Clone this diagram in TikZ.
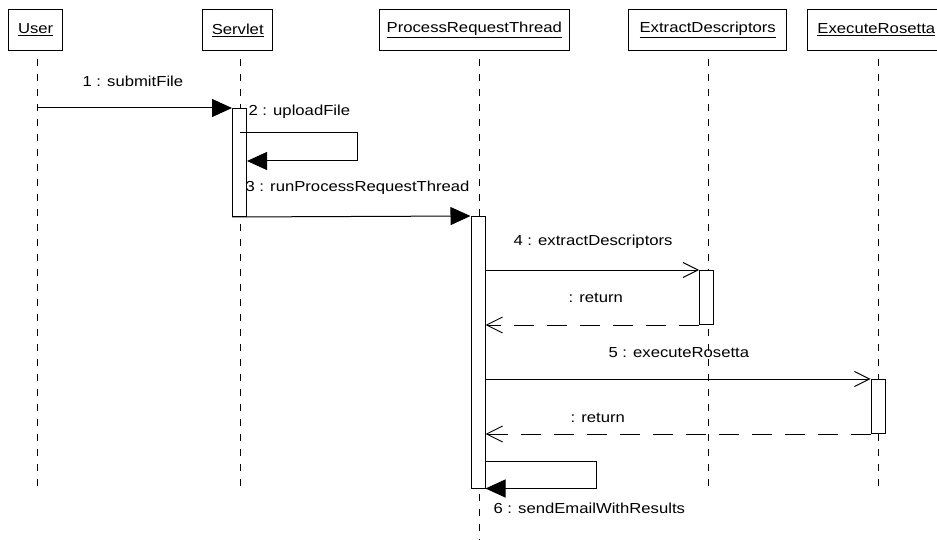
\documentclass[tikz,border=0pt]{standalone}
\usepackage{fontspec}
\setmainfont[FakeStretch=1.15]{Liberation Sans}
\usetikzlibrary{arrows.meta}

\begin{document}
\begin{tikzpicture}[x=1pt,y=-1pt,line width=1pt,
  font=\fontsize{14.5}{17}\selectfont,
  head/.style={draw,minimum height=41.4pt,inner sep=0pt},
  actbar/.style={draw,fill=white,anchor=north west,minimum width=14pt,inner sep=0pt},
  life/.style={dash pattern=on 7pt off 8pt},
  call/.style={-{Triangle[length=20pt,width=18pt]}},
  async/.style={-{Straight Barb[length=15pt,width=15pt]}},
  ret/.style={dash pattern=on 20pt off 13pt,-{Straight Barb[length=16pt,width=16pt]}},
  lbl/.style={inner sep=0pt,anchor=west}]
\clip (0,0) rectangle (937,540);

% object headers
\node[head,minimum width=54pt]  (user) at (35.7,30)  {\underline{User}};
\node[head,minimum width=70pt]  (srv)  at (237.7,30) {\underline{Servlet}};
\node[head,minimum width=190pt] (prt)  at (474.3,30) {\underline{ProcessRequestThread}};
\node[head,minimum width=158pt] (ext)  at (707.7,30) {\underline{ExtractDescriptors}};
\node[head,minimum width=137pt] (ros)  at (876.3,30) {\underline{ExecuteRosetta}};

% lifelines
\coordinate (uL) at (37,59);
\coordinate (sL) at (240,59);
\coordinate (pL) at (479,59);
\coordinate (eL) at (708,59);
\coordinate (rL) at (878,59);
\draw[life] (uL) -- ++(0,427);
\draw[life] (sL) -- ++(0,427);
\draw[life] (pL) -- ++(0,481);
\draw[life] (eL) -- ++(0,427);
\draw[life] (rL) -- ++(0,427);

% activation bars
\node[actbar,minimum height=108pt]   (sbar) at (232,108)   {};
\node[actbar,minimum height=271.5pt] (pbar) at (470.5,216) {};
\node[actbar,minimum height=54pt]    (ebar) at (699,270)   {};
\node[actbar,minimum height=54pt]    (rbar) at (870.5,379) {};

% messages
\draw[call] (uL |- sbar.north west) -- (sbar.north west);
\draw[call] ([yshift=-25pt]sbar.north) -- ++(118,0) |- ([yshift=-53pt]sbar.north east);
\draw[call] (sbar.south west) -- (pbar.north west);
\draw[async] (pbar.east |- ebar.north west) -- (ebar.north west);
\draw[ret] (ebar.south west) -- (pbar.east |- ebar.south west);
\draw[async] (pbar.east |- rbar.north west) -- (rbar.north west);
\draw[ret] (rbar.south west) -- (pbar.east |- rbar.south west);
\draw[call] ([yshift=27.5pt]pbar.south east) -- ++(110.5,0) |- (pbar.south east);

% message labels
\node[lbl] (m1) at (82,81)  {1 : submitFile};
\node[lbl] (m2) at (248,112) {2 : uploadFile};
\node[lbl] (m3) at (245,188) {3 : runProcessRequestThread};
\node[lbl] (m4) at (513,242) {4 : extractDescriptors};
\node[lbl] (r4) at (568,298) {: return};
\node[lbl] (m5) at (608,353) {5 : executeRosetta};
\node[lbl] (r5) at (570,418) {: return};
\node[lbl] (m6) at (493,508) {6 : sendEmailWithResults};
\end{tikzpicture}
\end{document}
